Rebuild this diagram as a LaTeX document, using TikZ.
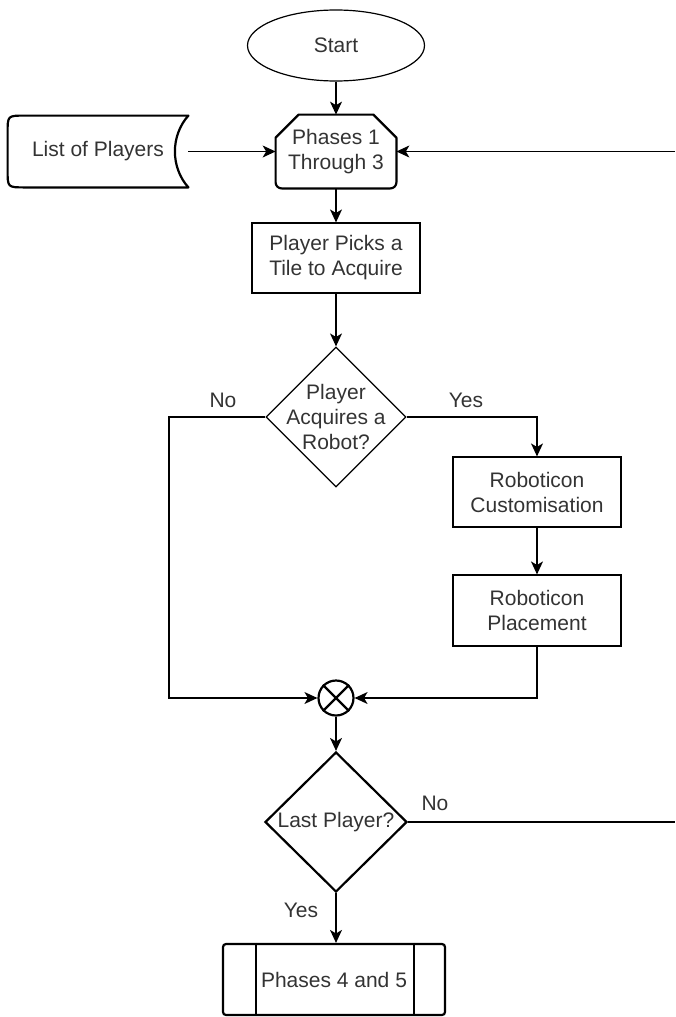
\documentclass[tikz,border=0pt]{standalone}
\usepackage{fontspec}
\setmainfont{Liberation Sans}
\usetikzlibrary{shapes.geometric,arrows.meta,calc}
\definecolor{txtc}{HTML}{333333}
\tikzset{
  thinln/.style={line width=0.6pt},
  thickln/.style={line width=1.1pt},
  txt/.style={text=txtc,font=\fontsize{10.5}{12.5}\selectfont,align=center,inner sep=0pt},
  boxn/.style={draw,thinln,rectangle,minimum width=84pt,minimum height=35pt,txt},
  dec/.style={draw,diamond,inner sep=0pt,minimum width=70pt,minimum height=70pt},
  arr/.style={thinln,-{Stealth[length=6.5pt,width=6pt,inset=1.8pt]}},
  ln/.style={thinln},
  lbl/.style={txt}
}
\begin{document}
\begin{tikzpicture}[x=0.5pt,y=-0.5pt]
\useasboundingbox (0,0) rectangle (675,1017);
% Start
\node[draw,thinln,ellipse,minimum width=88.5pt,minimum height=35.5pt,txt] (start) at (336,45.5) {Start};
% Phases 1 Through 3
\node[txt,minimum width=60pt,minimum height=36.5pt] (p13) at (336,151.5) {Phases 1\\Through 3};
\draw[thickln,line join=round] ($(p13.north west)+(0,23)$) -- ($(p13.north west)+(23,0)$) -- ($(p13.north east)+(-23,0)$) -- ($(p13.north east)+(0,23)$) [rounded corners=3pt] -- (p13.south east) -- (p13.south west) [sharp corners] -- cycle;
% List of Players
\node[txt,minimum width=90pt,minimum height=35.5pt] (list) at (98,151.5) {List of Players};
\draw[thickln,line join=round] (list.north east) .. controls ($(list.north east)+(-18,20)$) and ($(list.south east)+(-18,-20)$) .. (list.south east) -- ($(list.south west)+(17,0)$) .. controls (list.south west) .. ($(list.south west)+(0,-17)$) -- ($(list.north west)+(0,17)$) .. controls (list.north west) .. ($(list.north west)+(17,0)$) -- cycle;
% Player picks
\node[boxn] (picks) at (336,258) {Player Picks a\\Tile to Acquire};
% Decision 1
\node[dec,thinln,label={[txt]center:Player\\Acquires a\\Robot?}] (d1) at (336,417) {};
% Roboticon boxes
\node[boxn] (cust) at (537,492) {Roboticon\\Customisation};
\node[boxn,minimum height=35.5pt] (place) at (537,610.5) {Roboticon\\Placement};
% Merge circle
\node[draw,thickln,circle,minimum size=17.5pt,inner sep=0pt] (cx) at (336,698) {};
\draw[thickln] (cx.north west) -- (cx.south east) (cx.north east) -- (cx.south west);
% Decision 2
\node[dec,thickln,minimum width=71pt,label={[txt]center:Last Player?}] (d2) at (336,822) {};
% Phases 4 and 5
\node[draw,thickln,rectangle,rounded corners=1.5pt,minimum width=111pt,minimum height=35.5pt,txt] (p45) at (334,979.5) {Phases 4 and 5};
\draw[thickln] ($(p45.north west)+(34,0)$) -- ($(p45.south west)+(34,0)$);
\draw[thickln] ($(p45.north east)+(-32,0)$) -- ($(p45.south east)+(-32,0)$);
% coordinates
\coordinate (nL) at (169,417);
\coordinate (rTop) at (675,151.5);
\coordinate (rBot) at (675,822);
% connectors
\draw[arr] (start) -- (p13);
\draw[arr] (list.east) -- (p13.west);
\draw[arr] (rTop) -- (p13.east);
\draw[arr] (p13) -- (picks);
\draw[arr] (picks) -- (d1);
\draw[arr] (d1.west) -- (nL) |- (cx.west);
\draw[arr] (d1.east) -| (cust.north);
\draw[arr] (cust) -- (place);
\draw[arr] (place.south) |- (cx.east);
\draw[arr] (cx) -- (d2);
\draw[arr] (d2.south) -- (p45.north -| d2.south);
\draw[ln] (d2.east) -- (rBot);
% labels
\node[lbl] (no1) at (223,400) {No};
\node[lbl] (yes1) at (466,400) {Yes};
\node[lbl] (no2) at (435,803) {No};
\node[lbl] (yes2) at (301,910) {Yes};
\end{tikzpicture}
\end{document}
